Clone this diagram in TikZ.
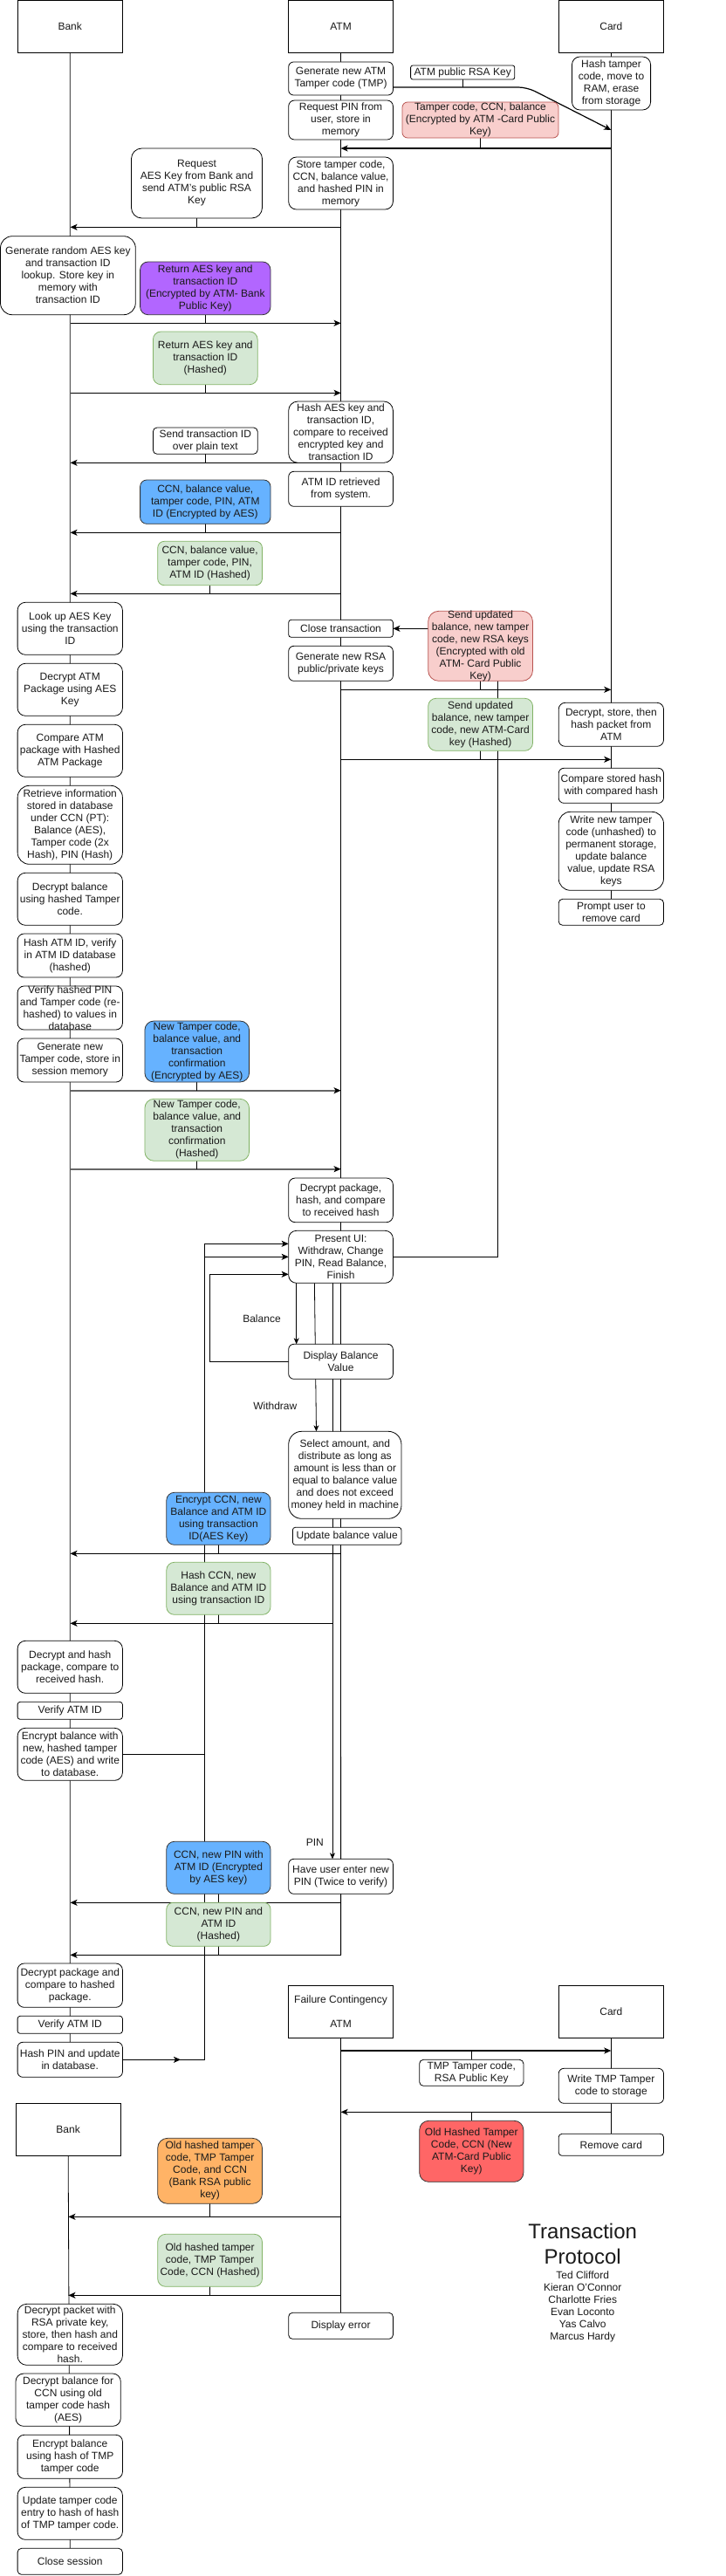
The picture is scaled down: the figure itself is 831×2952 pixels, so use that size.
\documentclass[tikz,border=0pt]{standalone}
\usepackage{fontspec}
\setmainfont{Liberation Sans}
\usetikzlibrary{arrows.meta,backgrounds}
\definecolor{cRedL}{HTML}{F8CECC}
\definecolor{cRedLd}{HTML}{B85450}
\definecolor{cPurp}{HTML}{B266FF}
\definecolor{cBlue}{HTML}{66B2FF}
\definecolor{cGreen}{HTML}{D5E8D4}
\definecolor{cGreenD}{HTML}{82B366}
\definecolor{cRedS}{HTML}{FF6666}
\definecolor{cOrange}{HTML}{FFB366}
\definecolor{cText}{HTML}{1A1A1A}
\tikzset{
  bxs/.style={draw=black,fill=white,line width=0.8pt,inner sep=0pt,outer sep=0pt},
  txt/.style={font=\fontsize{12}{14}\selectfont,align=center,inner sep=0pt,text=cText},
  sharpbox/.style={sharp corners},
  redbox/.style={fill=cRedL,draw=cRedLd},
  purplebox/.style={fill=cPurp,draw=black!80},
  bluebox/.style={fill=cBlue,draw=black!80},
  greenbox/.style={fill=cGreen,draw=cGreenD},
  redsbox/.style={fill=cRedS,draw=black!80},
  orangebox/.style={fill=cOrange,draw=black!80},
  msg/.style={line width=1.2pt,-{Stealth[length=8pt,width=7pt,inset=2pt]}},
  graymsg/.style={line width=1.6pt,draw=black!60,-{Stealth[length=8pt,width=7pt,inset=2pt,color=black]}},
  life/.style={line width=0.8pt},
  tie/.style={line width=0.6pt},
  flow/.style={line width=0.8pt,-{Stealth[length=7pt,width=6pt,inset=2pt]}},
  loopflow/.style={line width=1pt,-{Stealth[length=8pt,width=7pt,inset=2pt]}},
}
\newcommand\mybox[7]{%
  \pgfmathsetmacro\myw{#4-#2}%
  \pgfmathsetmacro\myh{#5-#3}%
  \pgfmathsetmacro\myr{0.15*min(\myw,\myh)}%
  \node[bxs,minimum width=\myw pt,minimum height=\myh pt,rounded corners=\myr pt,#6] (#1) at ({(#2+#4)/2},{(#3+#5)/2}) {};%
  \node[txt] (#1-t) at (#1.center) {#7};%
}
\newcommand\msgline[5][msg]{%
  \coordinate (#2-a) at (#3 |- 0,#5);%
  \coordinate (#2-b) at (#4 |- 0,#5);%
  \draw[#1] (#2-a) -- (#2-b);%
}
\begin{document}
\begin{tikzpicture}[x=1pt,y=-1pt]
\path[use as bounding box] (0,0) rectangle (831,2952);
\coordinate (LB) at (80.5,0);
\coordinate (LA) at (390.6,0);
\coordinate (LC) at (700.3,0);
\coordinate (LB2) at (78.4,0);

% headers
\mybox{hBank}{20}{0.5}{140.4}{60.3}{sharpbox}{Bank}
\mybox{hATM}{330.7}{0.5}{450.4}{60.3}{sharpbox}{ATM}
\mybox{hCard}{640.2}{0.5}{760.5}{60.3}{sharpbox}{Card}

% ATM column
\mybox{gen}{330.7}{71}{450.4}{109}{}{Generate new ATM\\Tamper code (TMP)}
\mybox{reqpin}{330.7}{115}{450.4}{160}{}{Request PIN from\\user, store in\\memory}
\mybox{store}{330.7}{180}{450.4}{240}{}{Store tamper code,\\CCN, balance value,\\and hashed PIN in\\memory}
\mybox{hashaes}{330.7}{460}{450.4}{530.3}{}{Hash AES key and\\transaction ID,\\compare to received\\encrypted key and\\transaction ID}
\mybox{atmid}{330.7}{540.3}{450.4}{580.3}{}{ATM ID retrieved\\from system.}
\mybox{close}{330.7}{710.3}{450.4}{730.3}{}{Close transaction}
\mybox{genrsa}{330.7}{740.3}{450.4}{780.3}{}{Generate new RSA\\public/private keys}
\mybox{decpkg}{330.7}{1350}{450.4}{1400.7}{}{Decrypt package,\\hash, and compare\\to received hash}
\mybox{ui}{330.7}{1410.3}{450.4}{1470.3}{}{Present UI:\\Withdraw, Change\\PIN, Read Balance,\\Finish}
\mybox{disp}{330.7}{1540.3}{450.4}{1580.3}{}{Display Balance\\Value}
\mybox{select}{330.7}{1640.3}{460}{1740.3}{}{Select amount, and\\distribute as long as\\amount is less than or\\equal to balance value\\and does not exceed\\money held in machine}
\mybox{upd}{335.4}{1750.3}{460}{1770.3}{}{Update balance value}
\mybox{newpin}{330.7}{2130.3}{450.4}{2170.3}{}{Have user enter new\\PIN (Twice to verify)}
\mybox{hFail}{330.7}{2275.3}{450.4}{2335.3}{sharpbox}{Failure Contingency\\[14pt]ATM}
\mybox{derr}{330.7}{2650.3}{450.4}{2680.3}{}{Display error}

% Card column
\mybox{hashtmp}{655.5}{65}{745.6}{126}{}{Hash tamper\\code, move to\\RAM, erase\\from storage}
\mybox{cdec}{640.2}{805.3}{760.5}{855.3}{}{Decrypt, store, then\\hash packet from\\ATM}
\mybox{ccmp}{640.2}{880.3}{760.5}{920.3}{}{Compare stored hash\\with compared hash}
\mybox{cwrite}{640.2}{930.3}{760.5}{1020.3}{}{Write new tamper\\code (unhashed) to\\permanent storage,\\update balance\\value, update RSA\\keys}
\mybox{cprompt}{640.2}{1030.3}{760.5}{1060.3}{}{Prompt user to\\remove card}
\mybox{hCard2}{640.2}{2275.3}{760.5}{2335.3}{sharpbox}{Card}
\mybox{cwtmp}{640.2}{2370.3}{760.5}{2410.3}{}{Write TMP Tamper\\code to storage}
\mybox{cremove}{640.2}{2445.3}{760.5}{2470.3}{}{Remove card}

% Bank column
\mybox{genaes}{0.5}{270.7}{155.3}{360.7}{}{Generate random AES key\\and transaction ID\\lookup. Store key in\\memory with\\transaction ID}
\mybox{lookup}{20.1}{690.3}{140.4}{750.3}{}{Look up AES Key\\using the transaction\\ID}
\mybox{decatm}{20.1}{760.3}{140.4}{820.3}{}{Decrypt ATM\\Package using AES\\Key}
\mybox{cmpatm}{20.1}{830.3}{140.4}{890.3}{}{Compare ATM\\package with Hashed\\ATM Package}
\mybox{retr}{20.1}{900.3}{140.4}{990.3}{}{Retrieve information\\stored in database\\under CCN (PT):\\Balance (AES),\\Tamper code (2x\\Hash), PIN (Hash)}
\mybox{decbal}{20.1}{1000.3}{140.4}{1060.3}{}{Decrypt balance\\using hashed Tamper\\code.}
\mybox{hashatm}{20.1}{1070}{140.4}{1120}{}{Hash ATM ID, verify\\in ATM ID database\\(hashed)}
\mybox{verpin}{20.1}{1130}{140.4}{1180}{}{Verify hashed PIN\\and Tamper code (re-\\hashed) to values in\\database}
\mybox{gentmp}{20.1}{1190}{140.4}{1240}{}{Generate new\\Tamper code, store in\\session memory}
\mybox{dechash}{20.1}{1880.3}{140.4}{1940.3}{}{Decrypt and hash\\package, compare to\\received hash.}
\mybox{verid1}{20.1}{1950.3}{140.4}{1970.3}{}{Verify ATM ID}
\mybox{encbal}{20.1}{1980.3}{140.4}{2040.3}{}{Encrypt balance with\\new, hashed tamper\\code (AES) and write\\to database.}
\mybox{decpk2}{20.1}{2250}{140.4}{2300.3}{}{Decrypt package and\\compare to hashed\\package.}
\mybox{verid2}{20.1}{2310.3}{140.4}{2330.3}{}{Verify ATM ID}
\mybox{hashpin}{20.1}{2340.3}{140.4}{2380.3}{}{Hash PIN and update\\in database.}
\mybox{hBank2}{18}{2410.3}{138.3}{2470.3}{sharpbox}{Bank}
\mybox{decrsa}{20.1}{2640.3}{140.4}{2710.3}{}{Decrypt packet with\\RSA private key,\\store, then hash and\\compare to received\\hash.}
\mybox{decold}{18}{2720}{138.3}{2780.3}{}{Decrypt balance for\\CCN using old\\tamper code hash\\(AES)}
\mybox{enctmp}{20.1}{2790.3}{140.4}{2840.3}{}{Encrypt balance\\using hash of TMP\\tamper code}
\mybox{updtmp}{20.1}{2850.3}{140.4}{2910.3}{}{Update tamper code\\entry to hash of hash\\of TMP tamper code.}
\mybox{closes}{20.1}{2920.3}{140.4}{2950.3}{}{Close session}

% message boxes
\mybox{rsakey}{470.6}{75}{589.8}{91}{}{ATM public RSA Key}
\mybox{redA}{461}{117}{640}{158}{redbox}{Tamper code, CCN, balance\\(Encrypted by ATM -Card Public\\Key)}
\mybox{reqaes}{150.5}{170}{300.5}{250}{}{Request\\AES Key from Bank and\\send ATM's public RSA\\Key}
\mybox{purp}{160.6}{300}{310}{360.7}{purplebox}{Return AES key and\\transaction ID\\(Encrypted by ATM- Bank\\Public Key)}
\mybox{grn1}{175.4}{380}{295.2}{440.7}{greenbox}{Return AES key and\\transaction ID\\(Hashed)}
\mybox{sendtid}{175.4}{490}{295.2}{520.3}{}{Send transaction ID\\over plain text}
\mybox{blue1}{160.6}{550}{310}{600.3}{bluebox}{CCN, balance value,\\tamper code, PIN, ATM\\ID (Encrypted by AES)}
\mybox{grn2}{180.7}{620.3}{300.5}{670.7}{greenbox}{CCN, balance value,\\tamper code, PIN,\\ATM ID (Hashed)}
\mybox{redB}{490.7}{700.3}{610.5}{780.3}{redbox}{Send updated\\balance, new tamper\\code, new RSA keys\\(Encrypted with old\\ATM- Card Public\\Key)}
\mybox{grn3}{490.7}{800.3}{610.5}{860.3}{greenbox}{Send updated\\balance, new tamper\\code, new ATM-Card\\key (Hashed)}
\mybox{blue2}{165.9}{1170}{285.6}{1240}{bluebox}{New Tamper code,\\balance value, and\\transaction\\confirmation\\(Encrypted by AES)}
\mybox{grn4}{165.9}{1259.3}{285.6}{1330.3}{greenbox}{New Tamper code,\\balance value, and\\transaction\\confirmation\\(Hashed)}
\mybox{blue3}{190.8}{1710.3}{310}{1770.3}{bluebox}{Encrypt CCN, new\\Balance and ATM ID\\using transaction\\ID(AES Key)}
\mybox{grn5}{190.8}{1790.3}{310}{1850.3}{greenbox}{Hash CCN, new\\Balance and ATM ID\\using transaction ID}
\mybox{blue4}{190.8}{2110.3}{310}{2170.3}{bluebox}{CCN, new PIN with\\ATM ID (Encrypted\\by AES key)}
\mybox{grn6}{190.8}{2180.3}{310}{2230.3}{greenbox}{CCN, new PIN and\\ATM ID\\(Hashed)}
\mybox{tmpk}{480.7}{2360.3}{599.9}{2390.3}{}{TMP Tamper code,\\RSA Public Key}
\mybox{red2}{480.7}{2430.3}{599.9}{2500.3}{redsbox}{Old Hashed Tamper\\Code, CCN (New\\ATM-Card Public\\Key)}
\mybox{orange}{180.7}{2450.3}{300.5}{2525.3}{orangebox}{Old hashed tamper\\code, TMP Tamper\\Code, and CCN\\(Bank RSA public\\key)}
\mybox{grn7}{180.7}{2560.3}{300.5}{2620.3}{greenbox}{Old hashed tamper\\code, TMP Tamper\\Code, CCN (Hashed)}

% labels
\node[txt] (lbBal) at (300,1511) {Balance};
\node[txt] (lbWd) at (315.3,1611) {Withdraw};
\node[txt] (lbPin) at (360.9,2111) {PIN};

% title
\node[align=center,inner sep=0pt,text=cText,font=\fontsize{24}{29}\selectfont] (title) at (667.7,2571.2) {Transaction\\Protocol};
\node[txt] (authors) at (667.7,2643.5) {Ted Clifford\\Kieran O'Connor\\Charlotte Fries\\Evan Loconto\\Yas Calvo\\Marcus Hardy};

\begin{scope}[on background layer]
\fill[white] (0,0) rectangle (831,2952);
% lifelines
\draw[life] (hBank.south) -- (hashpin.north);
\coordinate (ae) at (390.6,2240.3);
\draw[life] (hATM.south) -- (ae);
\draw[life] (hCard.south) -- (cprompt.north);
\draw[life] (hFail.south) -- (derr.north);
\draw[life] (hCard2.south) -- (cremove.north);
\draw[life] (hBank2.south) -- (closes.north);

% m1 bent arrow
\coordinate (m1-a) at (gen.east |- 0,100);
\coordinate (m1-k) at (604,100);
\coordinate (m1-b) at (LC |- 0,149);
\draw[msg,rounded corners=10pt] (m1-a) -- (m1-k) -- (m1-b);
\draw[tie] (rsakey.south) -- (rsakey.south |- m1-a);

\msgline{m2}{LC}{LA}{170}
\draw[tie] (redA.south) -- (redA.south |- m2-a);
\msgline{m3}{LA}{LB}{260.3}
\draw[tie] (reqaes.south) -- (reqaes.south |- m3-a);
\msgline{m4}{LB}{LA}{370.3}
\draw[tie] (purp.south) -- (purp.south |- m4-a);
\msgline{m5}{LB}{LA}{450.3}
\draw[tie] (grn1.south) -- (grn1.south |- m5-a);
\msgline{m6}{LA}{LB}{530.3}
\draw[tie] (sendtid.south) -- (sendtid.south |- m6-a);
\msgline{m7}{LA}{LB}{610.3}
\draw[tie] (blue1.south) -- (blue1.south |- m7-a);
\msgline{m8}{LA}{LB}{680.3}
\draw[tie] (grn2.south) -- (grn2.south |- m8-a);
\draw[msg] (redB.west |- close.east) -- (close.east);
\msgline{m10}{LA}{LC}{790.3}
\draw[tie] (redB.south) -- (redB.south |- m10-a);
\msgline{m11}{LA}{LC}{870.3}
\draw[tie] (grn3.south) -- (grn3.south |- m11-a);

% finish path
\coordinate (k12) at (570,1440.3);
\draw[life] (ui.east) -- (k12) -- (k12 |- redB.south);

\msgline[graymsg]{m13}{LB}{LA}{1249.7}
\draw[tie] (blue2.south) -- (blue2.south |- m13-a);
\msgline[graymsg]{m14}{LB}{LA}{1339.7}
\draw[tie] (grn4.south) -- (grn4.south |- m14-a);

% UI choices
\coordinate (xb) at (339.7,0);
\coordinate (xw1) at (360.4,0);
\coordinate (xw2) at (362.5,0);
\coordinate (xp) at (381,0);
\draw[flow] (ui.south -| xb) -- (disp.north -| xb);
\draw[flow] (ui.south -| xw1) -- (select.north -| xw2);
\draw[flow] (ui.south -| xp) -- (newpin.north -| xp);

% loops back to UI
\coordinate (k18) at (240.6,1460.3);
\draw[loopflow] (disp.west) -| (k18) -- (ui.west |- k18);
\coordinate (k19) at (234.8,1440.3);
\draw[loopflow] (encbal.east) -| (k19) -- (ui.west |- k19);
\coordinate (k20) at (234.8,1425.3);
\draw[loopflow] (hashpin.east) -| (k20) -- (ui.west |- k20);
\coordinate (k20m) at (207,2360.3);
\draw[loopflow] (hashpin.east) -- (k20m);

\msgline{m21}{LA}{LB}{1780.3}
\draw[tie] (blue3.south) -- (blue3.south |- m21-a);
\msgline{m22}{xp}{LB}{1860.3}
\draw[tie] (grn5.south) -- (grn5.south |- m22-a);
\msgline{m23}{LA}{LB}{2180.3}
\draw[tie] (blue4.south) -- (blue4.south |- m23-a);
\msgline{m24}{LA}{LB}{2240.3}
\draw[tie] (grn6.south) -- (grn6.south |- m24-a);

\msgline{m25}{LA}{LC}{2350}
\draw[tie] (tmpk.north) -- (tmpk.north |- m25-a);
\msgline{m26}{LC}{LA}{2420.3}
\draw[tie] (red2.north) -- (red2.north |- m26-a);
\msgline{m27}{LA}{LB2}{2540.3}
\draw[tie] (orange.south) -- (orange.south |- m27-a);
\msgline{m28}{LA}{LB2}{2630.3}
\draw[tie] (grn7.south) -- (grn7.south |- m28-a);
\end{scope}
\end{tikzpicture}
\end{document}
